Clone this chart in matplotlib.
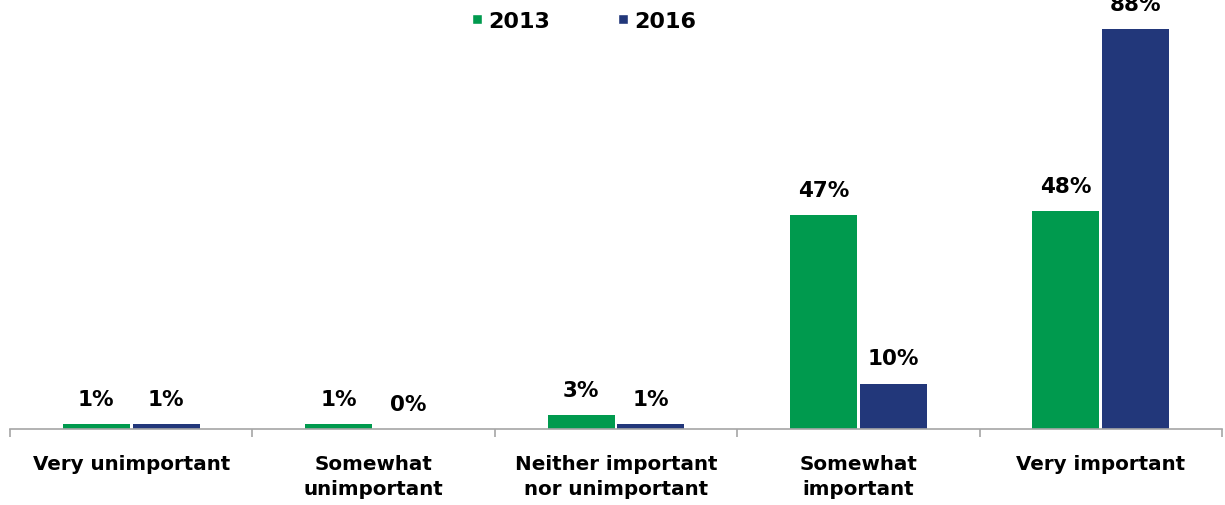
import numpy as np
import matplotlib.pyplot as plt
from matplotlib.lines import Line2D

categorias = ['Very unimportant', 'Somewhat\nunimportant', 'Neither important\nnor unimportant',
              'Somewhat\nimportant', 'Very important']
valores_2013 = [1, 1, 3, 47, 48]
valores_2016 = [1, 0, 1, 10, 88]
series = ['2013', '2016']

verde = '#009A4E'
azul = '#22377A'

plt.rcParams['font.family'] = ['DejaVu Sans']
plt.rcParams['font.weight'] = 'bold'

fig = plt.figure(figsize=(12.25, 5.06), dpi=100)
ax = fig.add_axes([10/1225, 76/506, 1212/1225, 430/506])

x = np.arange(len(categorias))
ancho = 0.276
sep = 0.006

b1 = ax.bar(x - ancho/2 - sep, valores_2013, ancho, color=verde)
b2 = ax.bar(x + ancho/2 + sep, valores_2016, ancho, color=azul)

for barras, vals in ((b1, valores_2013), (b2, valores_2016)):
    for r, v in zip(barras, vals):
        ax.annotate('%d%%' % v, (r.get_x() + r.get_width()/2, v),
                    xytext=(0, 11), textcoords='offset points',
                    ha='center', va='bottom', fontsize=15.5, fontweight='bold',
                    color='black', annotation_clip=False)

ax.set_xlim(-0.5, len(categorias) - 0.5)
ax.set_ylim(0, 94.6)

for s in ['top', 'right', 'left']:
    ax.spines[s].set_visible(False)
ax.spines['bottom'].set_color('#A6A6A6')
ax.spines['bottom'].set_linewidth(1.2)
ax.set_yticks([])

# ticks en los limites de cada categoria, etiquetas en el centro
ax.set_xticks(np.arange(-0.5, len(categorias)), minor=False)
ax.set_xticklabels([])
ax.tick_params(axis='x', which='major', length=6, color='#A6A6A6', width=1.2)
ax.set_xticks(x, minor=True)
ax.set_xticklabels(categorias, minor=True, fontsize=14.3, fontweight='bold',
                   linespacing=1.4, va='top')
ax.tick_params(axis='x', which='minor', length=0, pad=18)

marcas = [Line2D([0], [0], marker='s', color='w', markerfacecolor=c, markersize=7.5)
          for c in (verde, azul)]
fig.legend(marcas, series, loc='center', bbox_to_anchor=(582/1225, 1 - 22/506),
           ncol=2, frameon=False, prop={'size': 16, 'weight': 'bold'},
           handletextpad=0.1, columnspacing=2.9, handlelength=0.8)

fig.savefig('out.png', dpi=100)
